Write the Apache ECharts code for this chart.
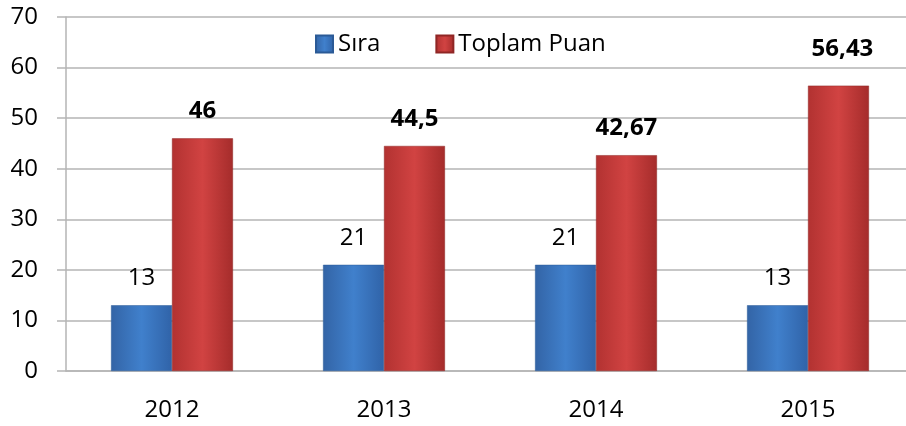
<!DOCTYPE html>
<html lang="tr">
<head>
  <meta charset="UTF-8">
  <title>Sıra ve Toplam Puan</title>
  <script src="https://cdn.jsdelivr.net/npm/echarts@6/dist/echarts.min.js"></script>
  <style>
    html, body, #main {
      margin: 0;
      padding: 0;
      width: 906px;
      height: 426px;
      background: #fff;
    }
  </style>
</head>
<body>
  <div id="main"></div>

  <script>
    const years = ['2012', '2013', '2014', '2015'];
    const sira = [13, 21, 21, 13];
    const toplamPuan = [46, 44.5, 42.67, 56.43];
    const yTicks = [0, 10, 20, 30, 40, 50, 60, 70];

    const font = '"Open Sans", "DejaVu Sans", sans-serif';
    const gridColor = '#b5b5b5';

    const blueFill = new echarts.graphic.LinearGradient(0, 0, 1, 0, [
      { offset: 0, color: '#3364a6' },
      { offset: 0.5, color: '#4080cc' },
      { offset: 1, color: '#3063a8' }
    ]);
    const redFill = new echarts.graphic.LinearGradient(0, 0, 1, 0, [
      { offset: 0, color: '#b23231' },
      { offset: 0.5, color: '#d14342' },
      { offset: 1, color: '#a52c2b' }
    ]);

    const commaNum = v => String(v).replace('.', ',');

    const chart = echarts.init(document.getElementById('main'));
    chart.setOption({
      animation: false,
      textStyle: { fontFamily: font },
      legend: {
        left: 315,
        top: 32,
        padding: 0,
        itemWidth: 17,
        itemHeight: 17,
        itemGap: 55,
        icon: 'rect',
        textStyle: { fontSize: 24, color: '#000', fontFamily: font },
        data: ['Sıra', 'Toplam Puan']
      },
      grid: {
        left: 66,
        right: -8,
        top: 17,
        bottom: 55,
        outerBoundsMode: 'none'
      },
      xAxis: {
        type: 'category',
        data: years,
        axisLine: { lineStyle: { color: gridColor, width: 1.5 } },
        axisTick: { length: 10, lineStyle: { color: gridColor, width: 1.5 } },
        axisLabel: { fontSize: 24, color: '#000', margin: 27, fontFamily: font }
      },
      yAxis: {
        type: 'value',
        min: yTicks[0],
        max: yTicks[yTicks.length - 1],
        interval: 10,
        axisLine: { show: true, lineStyle: { color: gridColor, width: 1.5 } },
        axisTick: { show: true, inside: false, length: 9, lineStyle: { color: gridColor, width: 1.5 } },
        axisLabel: { fontSize: 24, color: '#000', margin: 28, fontFamily: font },
        splitLine: { lineStyle: { color: gridColor, width: 1.5 } }
      },
      series: [
        {
          name: 'Sıra',
          type: 'bar',
          data: sira,
          barGap: '0%',
          barCategoryGap: '42.5%',
          itemStyle: { color: blueFill, borderColor: '#2b5a96', borderWidth: 0.5 },
          label: {
            show: true,
            position: 'top',
            distance: 15,
            fontSize: 24,
            color: '#000',
            fontFamily: font
          }
        },
        {
          name: 'Toplam Puan',
          type: 'bar',
          data: toplamPuan.map((v, i) => i === 3
            ? { value: v, label: { offset: [4, -9] } }
            : v),
          barGap: '0%',
          barCategoryGap: '42.5%',
          itemStyle: { color: redFill, borderColor: '#8f2625', borderWidth: 0.5 },
          label: {
            show: true,
            position: 'top',
            distance: 15,
            fontSize: 24,
            fontWeight: 'bold',
            color: '#000',
            fontFamily: font,
            formatter: p => commaNum(p.value)
          }
        }
      ]
    });
  </script>
</body>
</html>
